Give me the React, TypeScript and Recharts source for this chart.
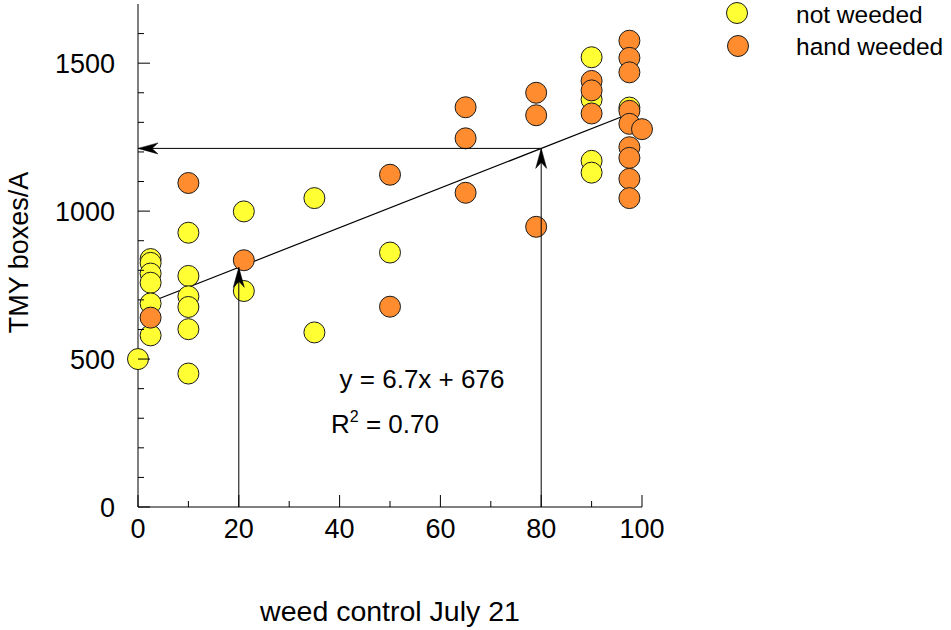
import React from 'react';
import { ScatterChart, Scatter, XAxis, YAxis } from 'recharts';

const FONT = '"Liberation Sans", Arial, Helvetica, sans-serif';

// ---- data ----
const notWeededX = [0, 2.5, 2.5, 2.5, 2.5, 2.5, 2.5, 10, 10, 10, 10, 10, 10, 21, 21, 35, 35, 50, 90, 90, 90, 90, 97.5];
const notWeededY = [500, 838, 825, 789, 758, 688, 580, 927, 781, 712, 676, 601, 451, 999, 730, 1044, 590, 860, 1520, 1377, 1170, 1130, 1350];

const handWeededX = [2.5, 10, 21, 50, 50, 65, 65, 65, 79, 79, 79, 90, 90, 90, 97.5, 97.5, 97.5, 97.5, 97.5, 97.5, 97.5, 97.5, 97.5, 100];
const handWeededY = [640, 1095, 834, 1123, 677, 1351, 1246, 1062, 1400, 1324, 947, 1440, 1408, 1330, 1576, 1518, 1469, 1339, 1295, 1216, 1180, 1109, 1044, 1277];

const trendX = [2.5, 97.5];
const trendY = [693, 1329];

const arrowLowX = [20, 20];
const arrowLowY = [0, 810];
const arrowHighX = [80, 80];
const arrowHighY = [0, 1212];
const arrowLeftX = [80, 0];
const arrowLeftY = [1212, 1212];

const xTicks = [0, 10, 20, 30, 40, 50, 60, 70, 80, 90, 100];
const xMajor = [0, 20, 40, 60, 80, 100];
const yTicks = [0, 100, 200, 300, 400, 500, 600, 700, 800, 900, 1000, 1100, 1200, 1300, 1400, 1500, 1600];
const yMajor = [0, 500, 1000, 1500];

const legendLabels = ['not weeded', 'hand weeded'];
const equationText = 'y = 6.7x + 676';
const r2Value = '0.70';
const annotX = [40, 38.3];
const annotY = [402, 250];

const YELLOW = '#FFFF33';
const ORANGE = '#FF8C2F';

const zip = (xs: number[], ys: number[]) => xs.map((x, i) => ({ x, y: ys[i] }));

const notWeeded = zip(notWeededX, notWeededY);
const handWeeded = zip(handWeededX, handWeededY);
const trend = zip(trendX, trendY);
const arrowLow = zip(arrowLowX, arrowLowY).map((p, i) => (i === 1 ? { ...p, head: 'up' } : p));
const arrowHigh = zip(arrowHighX, arrowHighY).map((p, i) => (i === 1 ? { ...p, head: 'up' } : p));
const arrowLeft = zip(arrowLeftX, arrowLeftY).map((p, i) => (i === 1 ? { ...p, head: 'left' } : p));
const annotations = [
  { x: annotX[0], y: annotY[0], kind: 'eq' },
  { x: annotX[1], y: annotY[1], kind: 'r2' },
];

const circleShape = (fill: string) => (props: any) => (
  <circle cx={props.cx} cy={props.cy} r={10.5} fill={fill} stroke="#1a1a1a" strokeWidth={1} />
);

const nullShape = () => <g />;

const arrowShape = (props: any) => {
  const { cx, cy, payload } = props;
  if (!payload || !payload.head) return <g />;
  const L = 20;
  const W = 5.5;
  const N = 14;
  let pts = '';
  if (payload.head === 'up') {
    pts = `${cx},${cy} ${cx - W},${cy + L} ${cx},${cy + N} ${cx + W},${cy + L}`;
  } else {
    pts = `${cx},${cy} ${cx + L},${cy - W} ${cx + N},${cy} ${cx + L},${cy + W}`;
  }
  return <polygon points={pts} fill="#000" stroke="#000" strokeWidth={0.5} />;
};

const annotShape = (props: any) => {
  const { cx, cy, payload } = props;
  if (payload.kind === 'eq') {
    return (
      <text x={cx} y={cy} fontFamily={FONT} fontSize={26} fill="#000">
        {equationText}
      </text>
    );
  }
  return (
    <text x={cx} y={cy} fontFamily={FONT} fontSize={26} fill="#000">
      R
      <tspan dy={-11} fontSize={16}>2</tspan>
      <tspan dy={11} fontSize={26}>{` = ${r2Value}`}</tspan>
    </text>
  );
};

const XTick = (props: any) => {
  const { x, y, payload } = props;
  const v = payload.value;
  const major = xMajor.includes(v);
  return (
    <g>
      <line x1={x} y1={y} x2={x} y2={y - (major ? 12 : 6)} stroke="#000" strokeWidth={1} />
      {major && (
        <text x={x} y={y + 31} textAnchor="middle" fontFamily={FONT} fontSize={27} fill="#000">
          {v}
        </text>
      )}
    </g>
  );
};

const YTick = (props: any) => {
  const { x, y, payload } = props;
  const v = payload.value;
  const major = yMajor.includes(v);
  return (
    <g>
      <line x1={x} y1={y} x2={x + (major ? 12 : 6)} y2={y} stroke="#000" strokeWidth={1} />
      {major && (
        <text x={x - 23} y={y + 9.5} textAnchor="end" fontFamily={FONT} fontSize={27} fill="#000">
          {v}
        </text>
      )}
    </g>
  );
};

export default function App() {
  return (
    <div style={{ position: 'absolute', left: 0, top: 0, width: 951, height: 630, background: '#fff' }}>
      <ScatterChart width={951} height={630} margin={{ top: 4, right: 309, bottom: 63, left: 38 }}>
        <XAxis
          type="number"
          dataKey="x"
          domain={[0, 100]}
          ticks={xTicks}
          interval={0}
          tickSize={0}
          tickMargin={0}
          tickLine={false}
          tick={(p: any) => <XTick {...p} />}
          axisLine={{ stroke: '#000', strokeWidth: 1 }}
          height={60}
          label={{
            value: 'weed control July 21',
            content: (p: any) => {
              const vb = p.viewBox || { x: 138, y: 507, width: 504, height: 60 };
              return (
                <text x={vb.x + vb.width / 2} y={vb.y + 114} textAnchor="middle" fontFamily={FONT} fontSize={28.5} fill="#000">
                  weed control July 21
                </text>
              );
            },
          }}
        />
        <YAxis
          type="number"
          dataKey="y"
          domain={[0, 1700]}
          ticks={yTicks}
          interval={0}
          tickSize={0}
          tickMargin={0}
          tickLine={false}
          tick={(p: any) => <YTick {...p} />}
          axisLine={{ stroke: '#000', strokeWidth: 1 }}
          width={100}
          label={{
            value: 'TMY boxes/A',
            content: (p: any) => {
              const vb = p.viewBox || { x: 38, y: 4, width: 100, height: 503 };
              const tx = vb.x - 10;
              const ty = vb.y + vb.height / 2 - 3;
              return (
                <text x={tx} y={ty} textAnchor="middle" transform={`rotate(-90, ${tx}, ${ty})`} fontFamily={FONT} fontSize={27} fill="#000">
                  TMY boxes/A
                </text>
              );
            },
          }}
        />
        <XAxis
          xAxisId="top"
          orientation="top"
          type="number"
          dataKey="x"
          domain={[0, 100]}
          height={0}
          tick={false}
          tickLine={false}
          axisLine={{ stroke: '#000', strokeWidth: 1 }}
        />
        <YAxis
          yAxisId="right"
          orientation="right"
          type="number"
          dataKey="y"
          domain={[0, 1700]}
          width={0}
          tick={false}
          tickLine={false}
          axisLine={{ stroke: '#333', strokeWidth: 1 }}
        />
        <Scatter
          name="trend"
          data={trend}
          line={{ stroke: '#000', strokeWidth: 1.2 }}
          lineType="joint"
          shape={nullShape}
          isAnimationActive={false}
        />
        <Scatter name={legendLabels[0]} data={notWeeded} shape={circleShape(YELLOW)} isAnimationActive={false} />
        <Scatter name={legendLabels[1]} data={handWeeded} shape={circleShape(ORANGE)} isAnimationActive={false} />
        <Scatter data={arrowLow} line={{ stroke: '#000', strokeWidth: 1 }} lineType="joint" shape={arrowShape} isAnimationActive={false} />
        <Scatter data={arrowHigh} line={{ stroke: '#000', strokeWidth: 1 }} lineType="joint" shape={arrowShape} isAnimationActive={false} />
        <Scatter data={arrowLeft} line={{ stroke: '#000', strokeWidth: 1 }} lineType="joint" shape={arrowShape} isAnimationActive={false} />
        <Scatter data={annotations} shape={annotShape} isAnimationActive={false} />
      </ScatterChart>
      <svg width={951} height={70} style={{ position: 'absolute', left: 0, top: 0, pointerEvents: 'none' }}>
        <circle cx={737} cy={13} r={10.5} fill={YELLOW} stroke="#1a1a1a" strokeWidth={1} />
        <text x={796} y={23} fontFamily={FONT} fontSize={24.5} fill="#000">
          {legendLabels[0]}
        </text>
        <circle cx={738} cy={46} r={10.5} fill={ORANGE} stroke="#1a1a1a" strokeWidth={1} />
        <text x={796} y={55} fontFamily={FONT} fontSize={24.5} fill="#000">
          {legendLabels[1]}
        </text>
      </svg>
    </div>
  );
}
